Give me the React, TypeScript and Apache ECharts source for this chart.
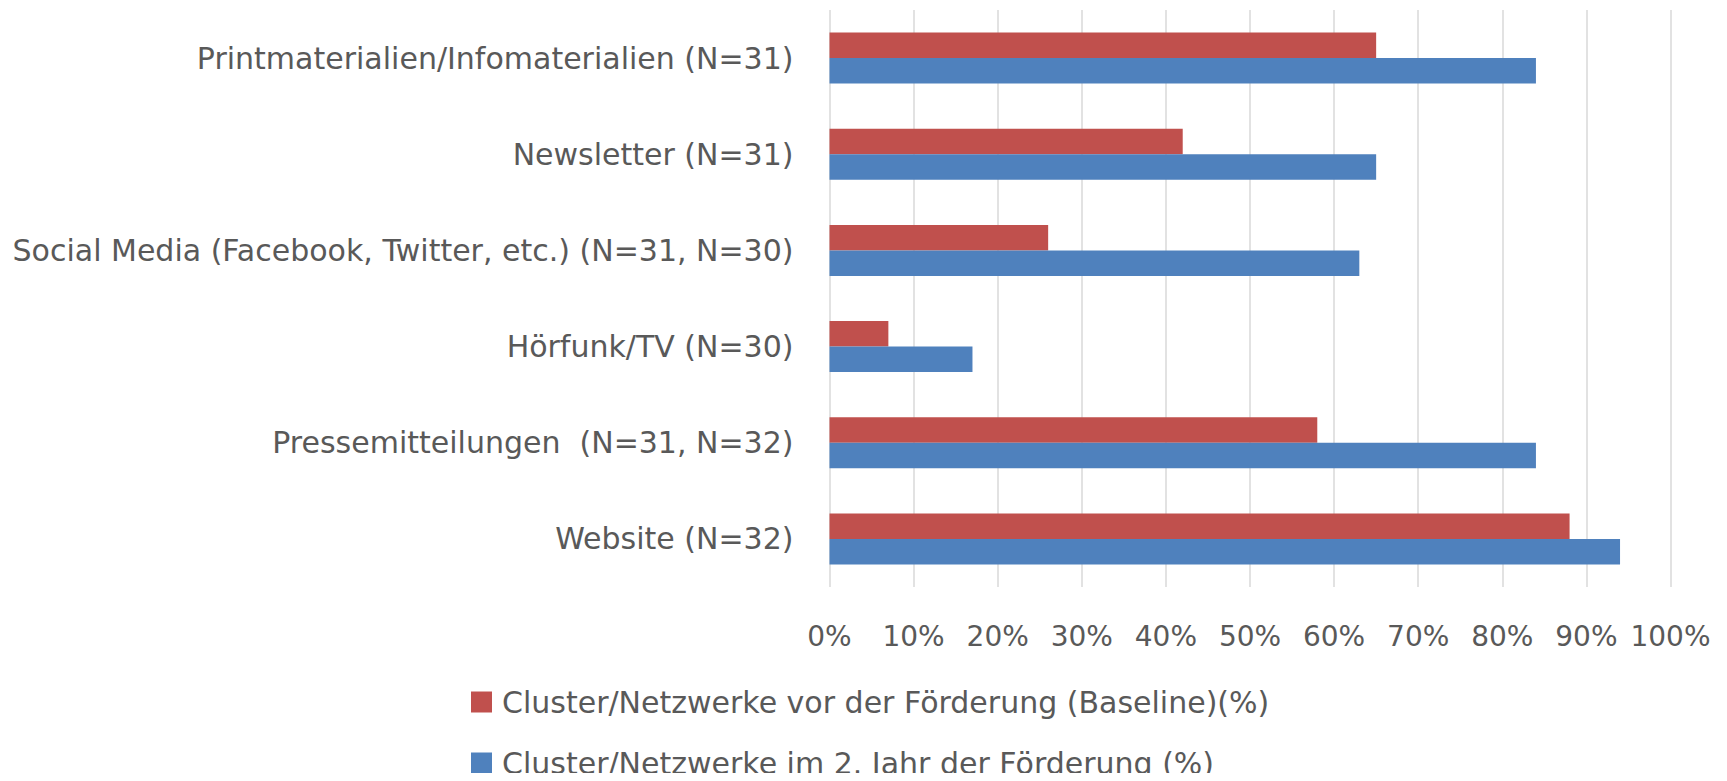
import React, { useEffect, useRef } from "react";
import * as echarts from "echarts";

const categories = [
  "Website (N=32)",
  "Pressemitteilungen  (N=31, N=32)",
  "Hörfunk/TV (N=30)",
  "Social Media (Facebook, Twitter, etc.) (N=31, N=30)",
  "Newsletter (N=31)",
  "Printmaterialien/Infomaterialien (N=31)",
];
const baselineName = "Cluster/Netzwerke vor der Förderung (Baseline)(%)";
const year2Name = "Cluster/Netzwerke im 2. Jahr der Förderung (%)";
const baselineValues = [88, 58, 7, 26, 42, 65];
const year2Values = [94, 84, 17, 63, 65, 84];
const xTicks = [0, 10, 20, 30, 40, 50, 60, 70, 80, 90, 100];

const RED = "#C0504D";
const BLUE = "#4F81BD";
const TEXT = "#595959";
const FONT = "DejaVu Sans";

export default function App() {
  const ref = useRef<HTMLDivElement>(null);
  useEffect(() => {
    if (!ref.current) return;
    const chart = echarts.init(ref.current, undefined, { renderer: "svg" });
    const legendBase = {
      orient: "horizontal",
      left: 471,
      padding: 0,
      icon: "rect",
      itemWidth: 21,
      itemHeight: 21,
      itemGap: 10,
      textStyle: {
        color: TEXT,
        fontSize: 30,
        fontFamily: FONT,
        lineHeight: 30,
        padding: [0, 0, 0, 5],
      },
    };
    chart.setOption({
      animation: false,
      backgroundColor: "#ffffff",
      textStyle: { fontFamily: FONT },
      grid: { left: 829.5, right: 56.5, top: 10, bottom: 194, containLabel: false },
      legend: [
        { ...legendBase, top: 687, data: [baselineName] },
        { ...legendBase, top: 748, data: [year2Name] },
      ],
      xAxis: {
        type: "value",
        min: xTicks[0],
        max: xTicks[xTicks.length - 1],
        interval: 10,
        axisLine: { show: false },
        axisTick: { show: false },
        splitLine: { show: true, lineStyle: { color: "#D9D9D9", width: 1.5 } },
        axisLabel: {
          formatter: "{value}%",
          color: TEXT,
          fontSize: 28,
          fontFamily: FONT,
          margin: 35,
        },
      },
      yAxis: {
        type: "category",
        data: categories,
        axisLine: { show: false },
        axisTick: { show: false },
        splitLine: { show: false },
        axisLabel: { color: TEXT, fontSize: 30, fontFamily: FONT, margin: 36 },
      },
      series: [
        {
          name: baselineName,
          type: "bar",
          data: baselineValues,
          itemStyle: { color: RED },
          barGap: "0%",
          barCategoryGap: "47%",
        },
        {
          name: year2Name,
          type: "bar",
          data: year2Values,
          itemStyle: { color: BLUE },
          barGap: "0%",
          barCategoryGap: "47%",
        },
      ],
    });
    return () => chart.dispose();
  }, []);
  return <div ref={ref} style={{ width: 1727, height: 781, margin: -8 }} />;
}
